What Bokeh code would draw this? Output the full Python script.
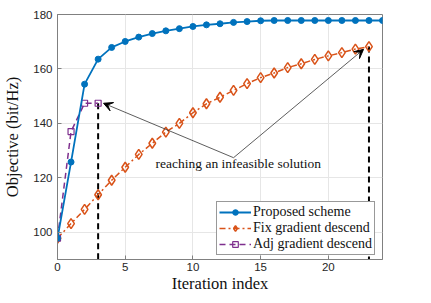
from bokeh.plotting import figure
from bokeh.models import Range1d, Arrow, VeeHead, Label, FixedTicker, Legend, LegendItem
from bokeh.embed import file_html
from bokeh.resources import INLINE

# data
iters_proposed = list(range(0, 25))
proposed = [97.8, 125.8, 154.4, 163.6, 167.9, 170.1, 171.7, 173.0, 174.0, 174.8,
            175.6, 176.2, 176.6, 177.1, 177.4, 177.7, 177.8, 177.8, 177.8, 177.8,
            177.8, 177.8, 177.8, 177.8, 177.8]
iters_fix = list(range(0, 24))
fix_grad = [97.8, 103.2, 108.4, 113.8, 119.1, 123.9, 128.6, 132.7, 136.8, 140.0,
            143.9, 147.2, 149.6, 152.1, 154.6, 156.8, 158.5, 160.5, 161.9, 163.5,
            164.8, 166.0, 167.3, 168.2]
iters_adj = [0, 1, 2, 3]
adj_grad = [97.8, 137.0, 147.4, 147.4]
x_ticks = [0, 5, 10, 15, 20]
y_ticks = [100, 120, 140, 160, 180]

BLUE = "#0072BD"
ORANGE = "#D95319"
PURPLE = "#7E2F8E"
SERIF = "Liberation Serif"
SANS = "Liberation Sans"
TICK_COLOR = "#262626"
AXIS_COLOR = "#808080"

p = figure(width=423, height=295, output_backend="svg", toolbar_location=None,
           x_range=Range1d(0, 24), y_range=Range1d(90, 180),
           min_border_left=4, min_border_right=41, min_border_top=14, min_border_bottom=0)
p.outline_line_color = AXIS_COLOR
p.outline_line_width = 1
p.background_fill_color = "white"
p.border_fill_color = "white"

for ax in (p.xaxis[0], p.yaxis[0]):
    ax.major_tick_in = 4
    ax.major_tick_out = 0
    ax.minor_tick_line_color = None
    ax.axis_line_color = AXIS_COLOR
    ax.major_tick_line_color = AXIS_COLOR
    ax.major_label_text_font = SANS
    ax.major_label_text_font_size = "11.5px"
    ax.major_label_text_color = TICK_COLOR
    ax.axis_label_text_font = SERIF
    ax.axis_label_text_font_style = "normal"
    ax.axis_label_text_font_size = "16.5px"
    ax.axis_label_text_color = "#111111"
p.xaxis[0].ticker = FixedTicker(ticks=x_ticks)
p.yaxis[0].ticker = FixedTicker(ticks=y_ticks)
p.xaxis[0].axis_label = "Iteration index"
p.yaxis[0].axis_label = "Objective (bit/Hz)"
p.xaxis[0].major_label_standoff = 3
p.xaxis[0].axis_label_standoff = 0
p.yaxis[0].major_label_standoff = 5
p.yaxis[0].axis_label_standoff = 8

p.xgrid.ticker = FixedTicker(ticks=x_ticks)
p.ygrid.ticker = FixedTicker(ticks=y_ticks)
p.grid.grid_line_color = "#e6e6e6"
p.grid.grid_line_width = 1

# vertical dashed markers for infeasible ends
p.segment(x0=[iters_adj[-1], iters_fix[-1]], y0=[adj_grad[-1], fix_grad[-1]],
          x1=[iters_adj[-1], iters_fix[-1]], y1=[90, 90],
          line_color="black", line_width=2, line_dash="6 4")

r_fix_l = p.line(iters_fix, fix_grad, line_color=ORANGE, line_width=1.5, line_dash="6 3 2 3")
r_fix_m = p.scatter(iters_fix, fix_grad, marker="diamond", size=10, fill_color=None,
                    line_color=ORANGE, line_width=1.5)
r_adj_l = p.line(iters_adj, adj_grad, line_color=PURPLE, line_width=1.5, line_dash="6 4")
r_adj_m = p.scatter(iters_adj, adj_grad, marker="square", size=6, fill_color=None,
                    line_color=PURPLE, line_width=1.2)
r_pro_l = p.line(iters_proposed, proposed, line_color=BLUE, line_width=1.8)
r_pro_m = p.scatter(iters_proposed, proposed, marker="circle", size=6, fill_color=BLUE,
                    line_color=BLUE)

# annotation
p.add_layout(Label(x=13.35, y=125.2, text="reaching an infeasible solution",
                   text_font=SERIF, text_font_size="13.5px", text_align="center",
                   text_baseline="middle", text_color="#111111"))
for (xe, ye) in [(3.4, 147.4), (22.6, 167.2)]:
    p.add_layout(Arrow(x_start=13.0, y_start=127.4, x_end=xe, y_end=ye,
                       line_color="#333333", line_width=0.8,
                       end=VeeHead(size=9, fill_color="black", line_color="black")))

legend = Legend(items=[
    LegendItem(label="Proposed scheme", renderers=[r_pro_l, r_pro_m]),
    LegendItem(label="Fix gradient descend", renderers=[r_fix_l, r_fix_m]),
    LegendItem(label="Adj gradient descend", renderers=[r_adj_l, r_adj_m]),
], location=(159, 4))
legend.label_text_font = SERIF
legend.label_text_font_size = "14px"
legend.label_text_color = "#111111"
legend.glyph_width = 32
legend.glyph_height = 14
legend.label_height = 14
legend.label_standoff = 2
legend.spacing = 0
legend.padding = 2
legend.margin = 0
legend.border_line_color = "#333333"
legend.border_line_width = 1
legend.background_fill_alpha = 1
p.add_layout(legend, "center")

open("out.html", "w").write(file_html(p, INLINE))
